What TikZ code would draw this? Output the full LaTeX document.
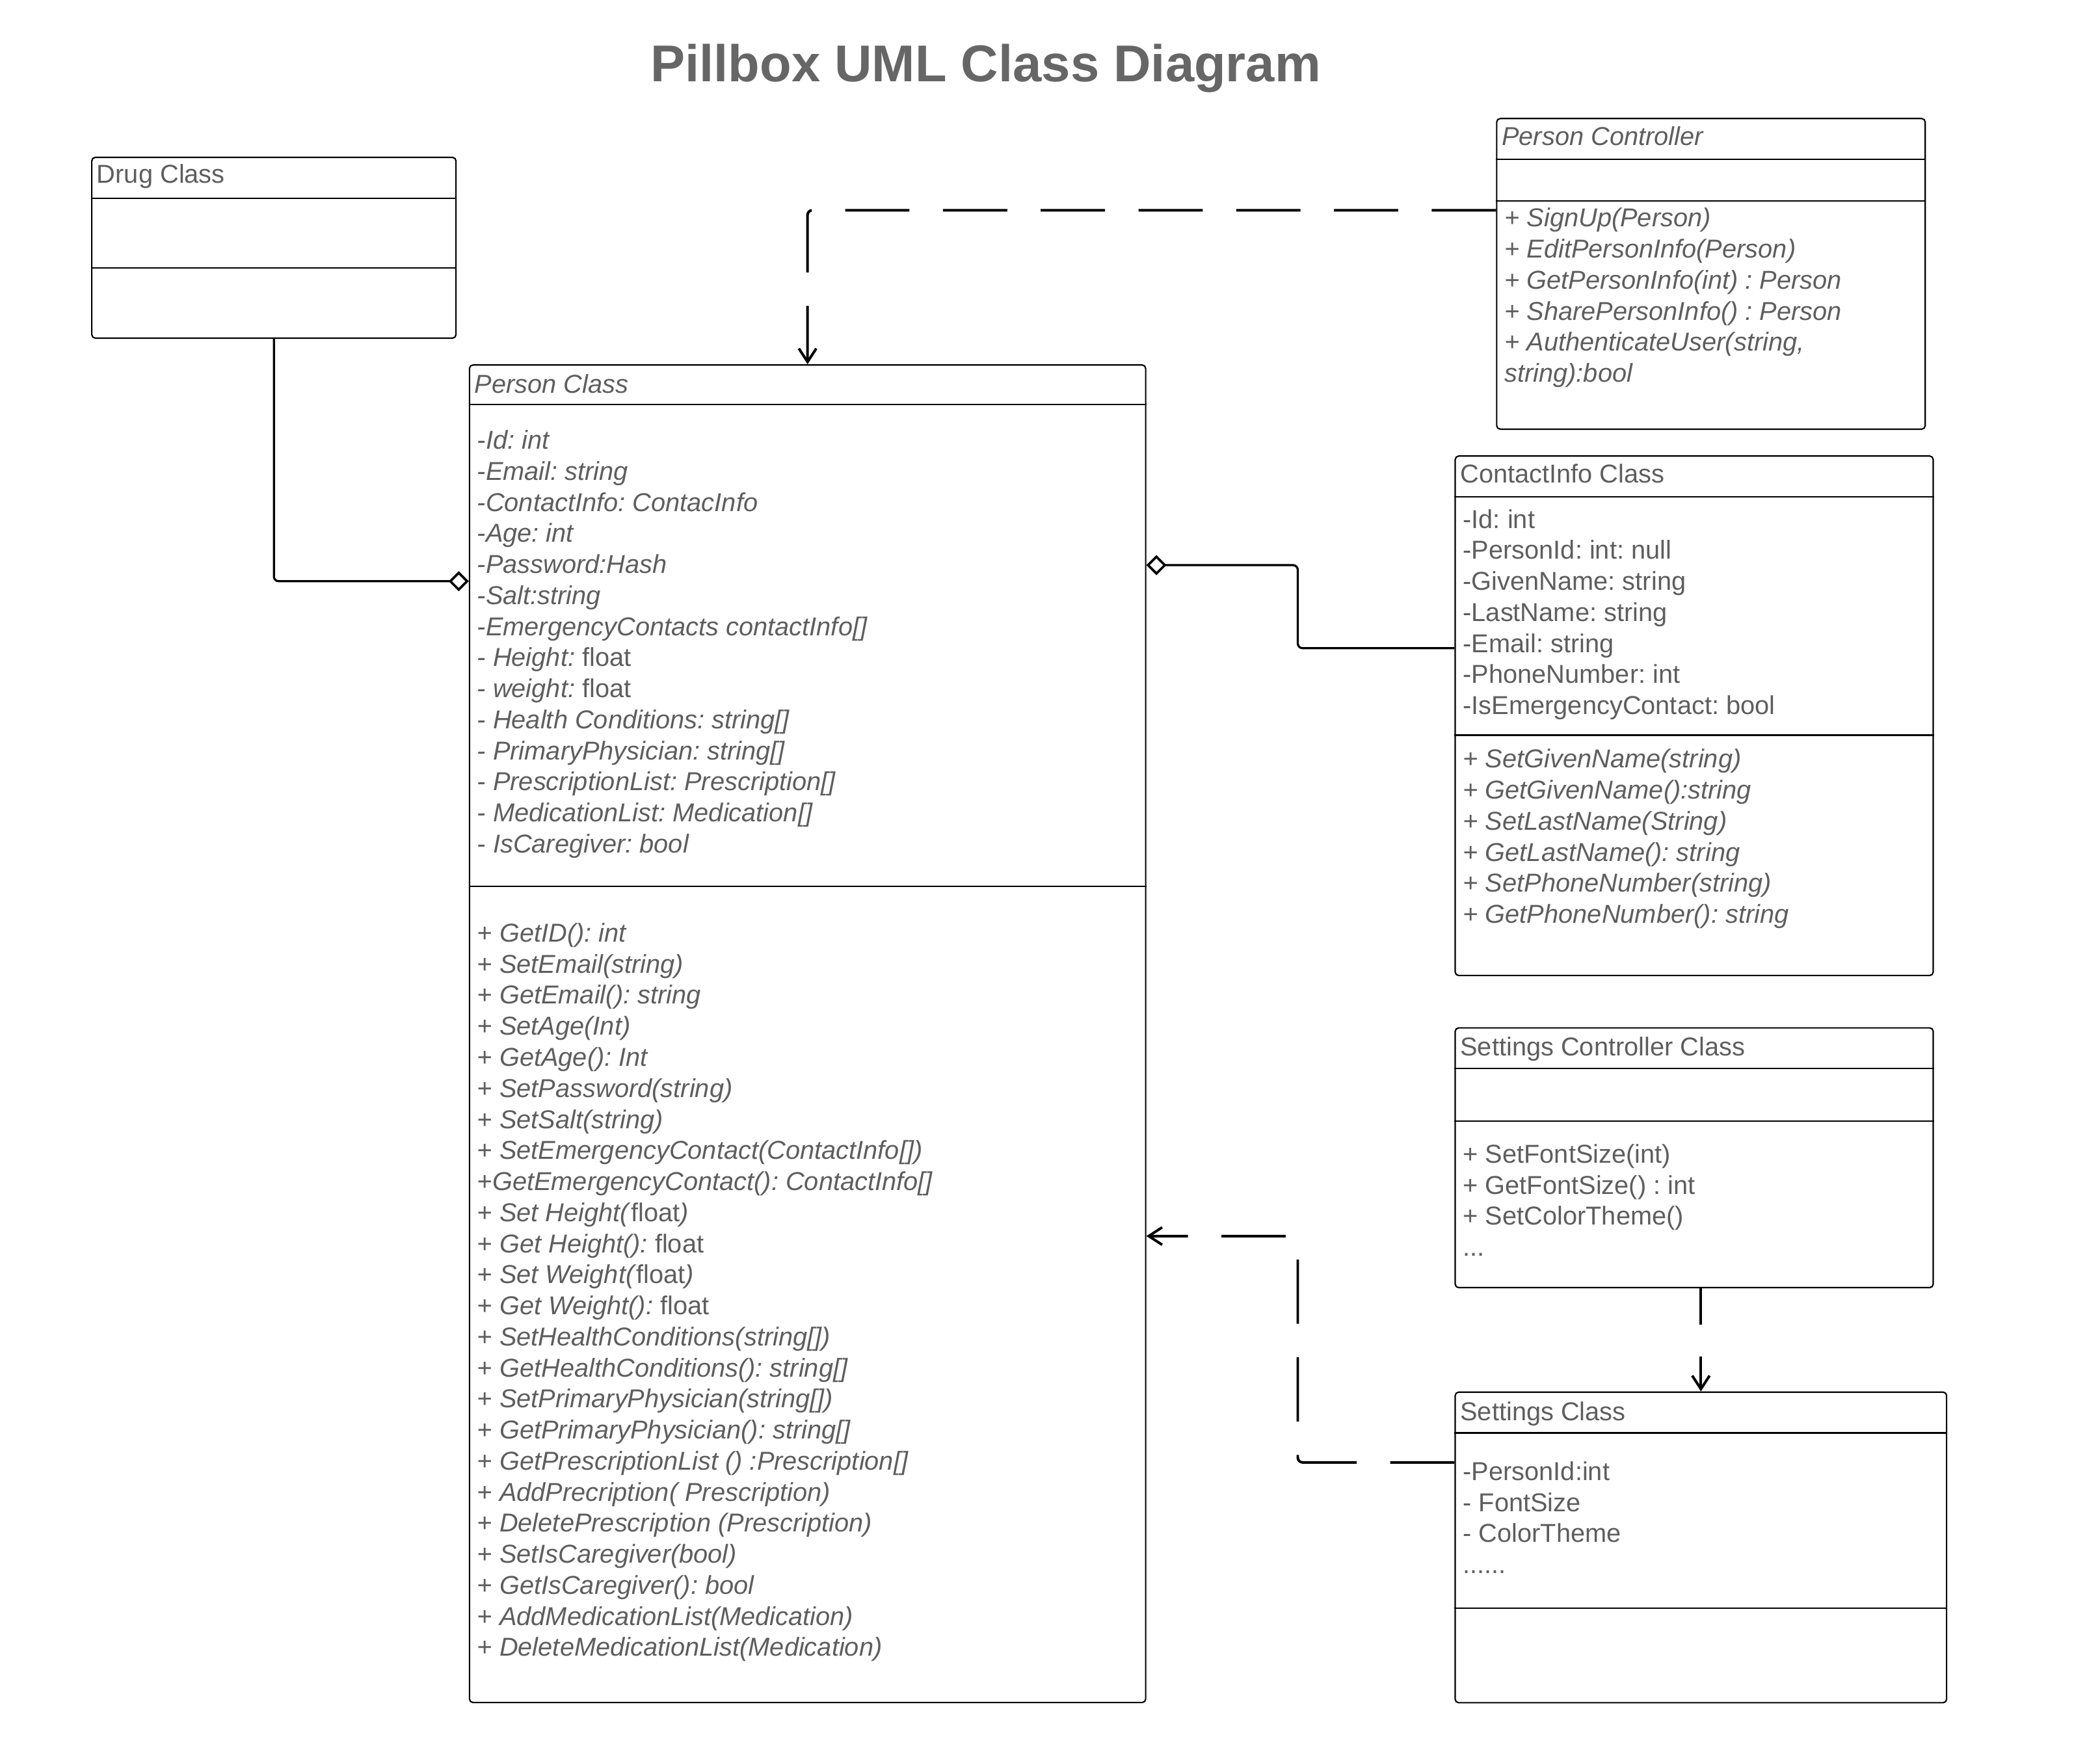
\documentclass[tikz,border=0pt]{standalone}
\usepackage{fontspec}
\setmainfont{Liberation Sans}
\usepackage{tikz}
\usetikzlibrary{arrows.meta}
\usetikzlibrary{positioning}
\frenchspacing
\definecolor{umlgray}{RGB}{94,94,94}
\definecolor{titlegray}{RGB}{102,102,102}
\newcommand{\umlfont}{\fontsize{11}{13.2}\selectfont}
\tikzset{classbox/.style={draw=black, line width=0.6pt, rounded corners=1.5pt, anchor=north west, inner sep=0pt}}
\tikzset{member/.style={anchor=north west, align=left, inner sep=0pt, text=umlgray, font=\umlfont, execute at begin node=\strut}}
\tikzset{imember/.style={member, font=\umlfont\itshape}}
\tikzset{dep/.style={-{Straight Barb[length=2mm,width=2.6mm]}, line width=1.1pt, dash pattern=on 0.96cm off 0.5cm, rounded corners=2pt}}
\tikzset{aggr/.style={-{Diamond[open,length=3mm,width=3mm,line width=1pt]}, line width=0.9pt, rounded corners=2pt}}
\newcommand{\sepline}[2]{
    \draw[line width=0.6pt] (#1.west |- 0,#2) -- (#1.east |- 0,#2);
}

\begin{document}
\begin{tikzpicture}[x=0.02cm, y=-0.02cm]
        \useasboundingbox (0,0) rectangle (1568,1315);

        \node[font=\bfseries\fontsize{22}{26}\selectfont, text=titlegray] (title) at (736,51) {Pillbox UML Class Diagram};

        \node[classbox, minimum width=5.44cm, minimum height=2.70cm] (drug) at (68,117) {};
        \node[classbox, minimum width=10.10cm, minimum height=19.98cm] (person) at (350,272) {};
        \node[classbox, minimum width=6.40cm, minimum height=4.64cm] (pctrl) at (1117,88) {};
        \node[classbox, minimum width=7.14cm, minimum height=7.76cm] (contact) at (1086,340) {};
        \node[classbox, minimum width=7.14cm, minimum height=3.88cm] (sctrl) at (1086,767) {};
        \node[classbox, minimum width=7.34cm, minimum height=4.64cm] (settings) at (1086,1039) {};

        \sepline{drug}{148}
        \sepline{drug}{200}
        \sepline{person}{302}
        \sepline{person}{662}
        \sepline{pctrl}{119}
        \sepline{pctrl}{150}
        \sepline{contact}{371}
        \sepline{contact}{549}
        \sepline{sctrl}{798}
        \sepline{sctrl}{837}
        \sepline{settings}{1070}
        \sepline{settings}{1201}

        \node[member] (drugname) at (72,120) {Drug Class};

        \node[imember] (personname) at (354,277) {Person Class};
        \node[imember] (personattr) at (356,321) {
            -Id: int\\
            -Email: string\\
            -ContactInfo: ContacInfo\\
            -Age: int\\
            -Password:Hash\\
            -Salt:string\\
            -EmergencyContacts contactInfo[]\\
            - Height: \textup{float}\\
            - weight: \textup{float}\\
            - Health Conditions: string[]\\
            - PrimaryPhysician: string[]\\
            - PrescriptionList: Prescription[]\\
            - MedicationList: Medication[]\\
            - IsCaregiver: bool};
        \node[imember] (personops) at (356,689) {
            + GetID(): int\\
            + SetEmail(string)\\
            + GetEmail(): string\\
            + SetAge(Int)\\
            + GetAge(): Int\\
            + SetPassword(string)\\
            + SetSalt(string)\\
            + SetEmergencyContact(ContactInfo[])\\
            +GetEmergencyContact(): ContactInfo[]\\
            + Set Height(\textup{float})\\
            + Get Height(): \textup{float}\\
            + Set Weight(\textup{float})\\
            + Get Weight(): \textup{float}\\
            + SetHealthConditions(string[])\\
            + GetHealthConditions(): string[]\\
            + SetPrimaryPhysician(string[])\\
            + GetPrimaryPhysician(): string[]\\
            + GetPrescriptionList () :Prescription[]\\
            + AddPrecription( Prescription)\\
            + DeletePrescription (Prescription)\\
            + SetIsCaregiver(bool)\\
            + GetIsCaregiver(): bool\\
            + AddMedicationList(Medication)\\
            + DeleteMedicationList(Medication)};

        \node[imember] (pctrlname) at (1121,92) {Person Controller};
        \node[imember] (pctrlops) at (1123,155) {
            + SignUp(Person)\\
            + EditPersonInfo(Person)\\
            + GetPersonInfo(int) : Person\\
            + SharePersonInfo() : Person\\
            + AuthenticateUser(string,\\
            string):bool};

        \node[member] (contactname) at (1090,344) {ContactInfo Class};
        \node[member] (contactattr) at (1092,380) {
            -Id: int\\
            -PersonId: int: null\\
            -GivenName: string\\
            -LastName: string\\
            -Email: string\\
            -PhoneNumber: int\\
            -IsEmergencyContact: bool};
        \node[imember] (contactops) at (1092,559) {
            + SetGivenName(string)\\
            + GetGivenName():string\\
            + SetLastName(String)\\
            + GetLastName(): string\\
            + SetPhoneNumber(string)\\
            + GetPhoneNumber(): string};

        \node[member] (sctrlname) at (1090,772) {Settings Controller Class};
        \node[member] (sctrlops) at (1092,854) {
            + SetFontSize(int)\\
            + GetFontSize() : int\\
            + SetColorTheme()\\
            ...};

        \node[member] (settingsname) at (1090,1044) {Settings Class};
        \node[member] (settingsattr) at (1092,1091) {
            -PersonId:int\\
            - FontSize\\
            - ColorTheme\\
            ......};

        \draw[aggr] (drug.south) |- (person.west |- 0,434);
        \draw[aggr] (contact.west |- 0,484) -| (969,453) |- (person.east |- 0,422);
        \draw[dep] (pctrl.west |- 0,157) -| (person.north);
        \draw[dep, dash pattern=on 0.54cm off 0.48cm] (settings.north |- sctrl.south) -- (settings.north);
        \draw[dep] (settings.west |- 0,1092) -| (969,1000) |- (person.east |- 0,923);
    \end{tikzpicture}
\end{document}
